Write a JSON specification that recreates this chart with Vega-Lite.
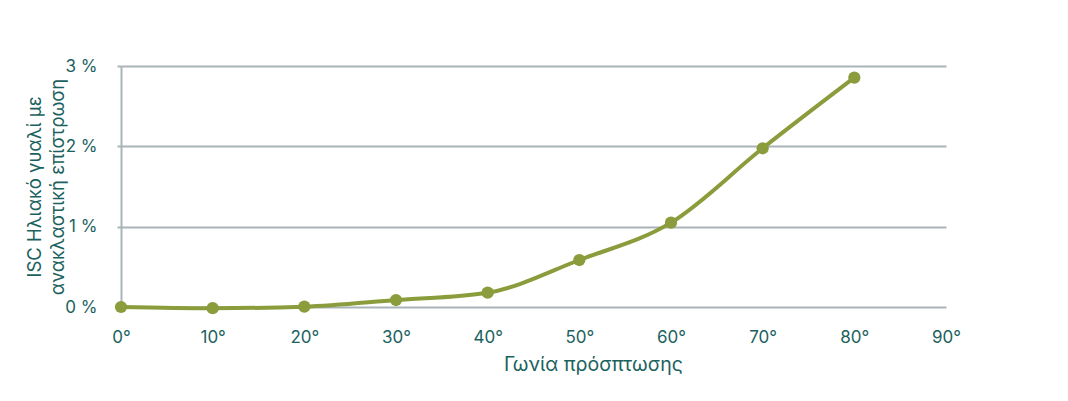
{
  "$schema": "https://vega.github.io/schema/vega-lite/v6.json",
  "autosize": {"type": "none"},
  "width": 825,
  "height": 241,
  "padding": {"left": 121, "top": 66, "right": 122, "bottom": 94},
  "background": "#ffffff",
  "config": {
    "view": {"stroke": null},
    "font": "Inter",
    "axis": {"labelFont": "Inter", "titleFont": "Inter", "labelColor": "#1b625e", "titleColor": "#1b625e", "titleFontWeight": "normal"}
  },
  "data": {
    "values": [
      {"angle": 0, "isc": 0.0},
      {"angle": 10, "isc": -0.015},
      {"angle": 20, "isc": 0.004},
      {"angle": 30, "isc": 0.087},
      {"angle": 40, "isc": 0.178},
      {"angle": 50, "isc": 0.585},
      {"angle": 60, "isc": 1.05},
      {"angle": 70, "isc": 1.976},
      {"angle": 80, "isc": 2.855}
    ]
  },
  "encoding": {
    "x": {
      "field": "angle",
      "type": "quantitative",
      "scale": {"domain": [0, 90], "nice": false, "zero": false},
      "axis": {
        "values": [0, 10, 20, 30, 40, 50, 60, 70, 80, 90],
        "labelExpr": "datum.value + '°'",
        "labelFontSize": 17,
        "labelFlush": false,
        "labelPadding": 22,
        "ticks": false,
        "domain": false,
        "grid": false,
        "title": "Γωνία πρόσπτωσης",
        "titleFontSize": 19.5,
        "titleX": 472,
        "titleY": 48,
        "titleAnchor": "middle",
        "titleAlign": "center",
        "titleBaseline": "top"
      }
    },
    "y": {
      "field": "isc",
      "type": "quantitative",
      "scale": {"domain": [0, 3], "nice": false},
      "axis": {
        "values": [0, 1, 2, 3],
        "labelExpr": "datum.value + ' %'",
        "labelFontSize": 17,
        "labelPadding": 20,
        "tickSize": 4,
        "tickColor": "#aab4b8",
        "tickWidth": 2,
        "domain": true,
        "domainColor": "#aab4b8",
        "domainWidth": 2,
        "grid": true,
        "gridColor": "#aab4b8",
        "gridWidth": 2,
        "title": ["ISC Ηλιακό γυαλί με", "ανακλαστική επίστρωση"],
        "titleFontSize": 18.5,
        "titleAngle": -90,
        "titleAlign": "center",
        "titleBaseline": "top",
        "titleLineHeight": 23,
        "titleX": -96,
        "titleY": 120.5
      }
    }
  },
  "layer": [
    {
      "mark": {"type": "line", "interpolate": "monotone", "color": "#8a9c3c", "strokeWidth": 4, "clip": false}
    },
    {
      "mark": {"type": "point", "filled": true, "opacity": 1, "size": 150, "color": "#8a9c3c", "clip": false}
    }
  ]
}
